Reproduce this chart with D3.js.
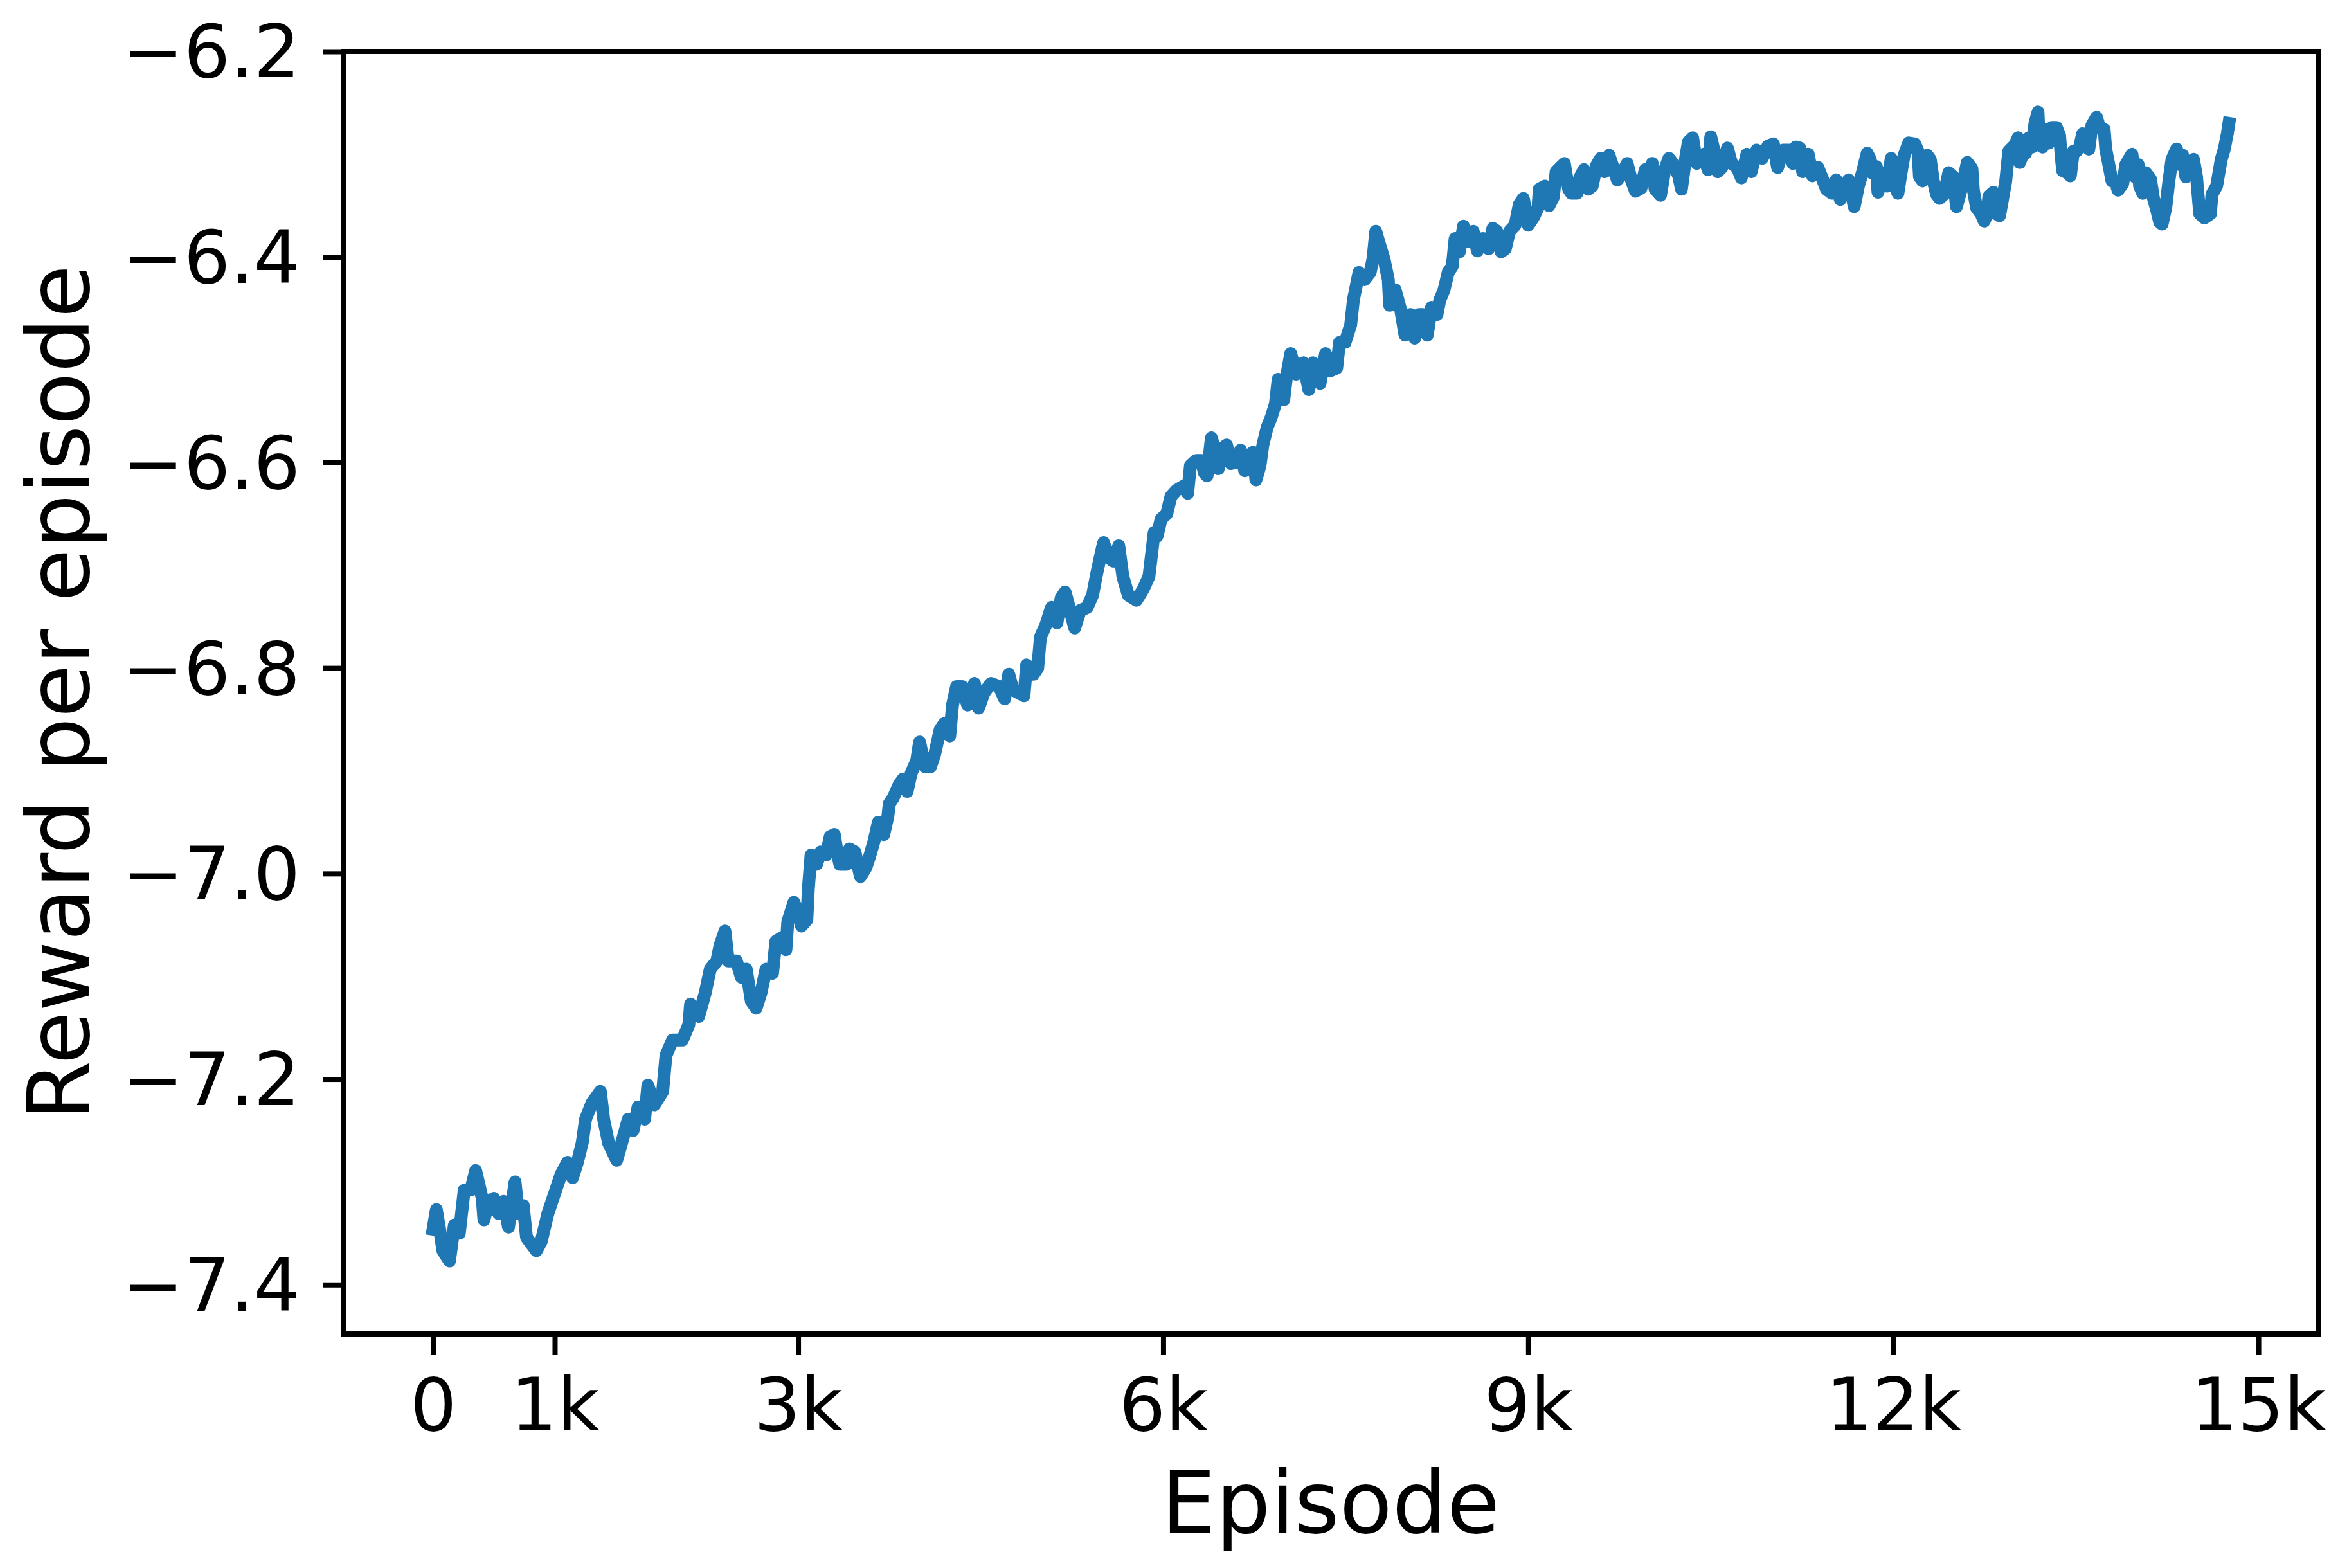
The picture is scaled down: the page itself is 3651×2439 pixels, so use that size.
<!DOCTYPE html>
<html>
<head>
<meta charset="utf-8">
<script src="https://cdn.jsdelivr.net/npm/d3@7"></script>
<style>
  html, body { margin: 0; padding: 0; background: #ffffff; }
  svg { display: block; }
</style>
</head>
<body>
<script>
const episodes = [
  0,27,54,81,135,175,216,256,310,350,404,418,458,499,539,580,620,674,701,741,768,849,889,943,997,
  1051,1105,1146,1186,1226,1253,1307,1375,1402,1442,1509,1550,1604,1644,1685,1739,1765,1819,1887,1914,1968,
  2049,2102,2116,2183,2237,2278,2332,2358,2399,2426,2493,2534,2574,2615,2655,2695,2736,2790,2817,2871,2900,2915,2965,
  3005,3027,3072,3084,3106,3151,3185,3230,3264,3298,3320,3343,3400,3422,3467,3512,3558,3591,3625,3659,3704,3738,3749,3783,3828,3862,3896,3930,3975,3998,
  4043,4088,4122,4167,4201,4246,4269,4302,4348,4393,4449,4483,4528,4585,4652,4697,4731,4765,4810,4856,4878,4935,4969,4991,
  5036,5082,5127,5161,5194,5228,5273,5318,5375,5420,5454,5476,5510,5556,5589,5635,5669,5713,5781,5837,5883,5926,5949,5983,
  6029,6064,6109,6167,6201,6224,6270,6315,6338,6361,6396,6430,6453,6487,6521,6556,6602,6636,6670,6705,6739,6762,6796,6819,6854,6888,6922,6945,6991,
  7014,7048,7094,7151,7197,7231,7289,7334,7369,7426,7449,7495,7541,7563,7609,7655,7701,7724,7747,7781,7815,7850,7861,7907,7953,7987,
  8033,8067,8102,8136,8170,8205,8250,8273,8308,8342,8376,8399,8434,8468,8502,8548,8582,8628,8674,8709,8743,8777,8812,8846,8892,8926,8960,
  9000,9045,9080,9091,9137,9171,9206,9229,9263,9297,9332,9355,9400,9423,9458,9492,9526,9561,9595,9629,9664,9698,9732,9778,9813,9847,9881,9927,9961,9996,
  10019,10042,10087,10122,10156,10190,10236,10259,10293,10316,10351,10385,10419,10442,10477,10500,10534,10557,10591,10637,10671,10717,10751,10797,10832,10877,10923,10969,
  11015,11049,11095,11141,11175,11198,11232,11255,11301,11335,11381,11415,11450,11496,11530,11564,11599,11633,11679,11713,11748,11785,11811,11823,11861,11874,11912,11950,11983,
  12013,12038,12064,12089,12127,12177,12203,12215,12241,12279,12304,12329,12355,12380,12418,12456,12494,12519,12570,12608,12646,12658,12684,12721,12747,12772,12785,12823,12848,12873,12899,12924,12949,12999,
  13025,13038,13076,13088,13114,13139,13164,13189,13202,13227,13253,13278,13303,13341,13367,13379,13392,13430,13455,13480,13506,13531,13556,13582,13607,13632,13670,13695,13733,13746,13771,13797,13822,13847,13885,13911,13936,13961,13986,
  14012,14024,14050,14075,14113,14138,14164,14189,14209,14239,14265,14290,14328,14353,14378,14404,14442,14467,14492,14518,14556,14606,14619,14657,14695,14720,14745,14758
];
const rewards = [
  -7.346,-7.327,-7.346,-7.367,-7.377,-7.342,-7.350,-7.308,-7.308,-7.289,-7.316,-7.337,-7.319,-7.316,-7.331,-7.319,-7.344,-7.300,-7.331,-7.323,-7.354,-7.367,-7.358,-7.331,-7.312,
  -7.293,-7.281,-7.296,-7.281,-7.262,-7.239,-7.223,-7.212,-7.239,-7.262,-7.279,-7.262,-7.239,-7.250,-7.227,-7.239,-7.206,-7.225,-7.212,-7.177,-7.162,
  -7.162,-7.147,-7.127,-7.139,-7.116,-7.093,-7.085,-7.070,-7.056,-7.085,-7.085,-7.101,-7.093,-7.124,-7.131,-7.116,-7.093,-7.097,-7.066,-7.062,-7.074,-7.047,-7.028,
  -7.039,-7.051,-7.045,-7.015,-6.982,-6.991,-6.979,-6.982,-6.964,-6.962,-6.979,-6.991,-6.991,-6.976,-6.979,-7.003,-6.994,-6.982,-6.968,-6.950,-6.962,-6.944,-6.932,-6.926,-6.914,-6.908,-6.920,-6.902,-6.890,-6.872,
  -6.896,-6.896,-6.884,-6.860,-6.854,-6.866,-6.836,-6.818,-6.818,-6.836,-6.815,-6.839,-6.824,-6.815,-6.818,-6.830,-6.806,-6.821,-6.824,-6.827,-6.797,-6.806,-6.800,-6.770,
  -6.758,-6.741,-6.756,-6.732,-6.726,-6.741,-6.761,-6.744,-6.741,-6.729,-6.708,-6.696,-6.678,-6.693,-6.696,-6.681,-6.711,-6.729,-6.734,-6.723,-6.711,-6.668,-6.672,-6.655,
  -6.650,-6.633,-6.627,-6.623,-6.630,-6.603,-6.598,-6.598,-6.610,-6.613,-6.576,-6.590,-6.606,-6.586,-6.583,-6.601,-6.600,-6.588,-6.608,-6.593,-6.590,-6.617,-6.603,-6.583,-6.566,-6.556,-6.543,-6.519,-6.539,
  -6.516,-6.494,-6.514,-6.503,-6.529,-6.503,-6.523,-6.494,-6.511,-6.508,-6.483,-6.483,-6.466,-6.442,-6.415,-6.422,-6.415,-6.402,-6.375,-6.389,-6.402,-6.422,-6.447,-6.432,-6.452,-6.476,
  -6.456,-6.479,-6.456,-6.456,-6.476,-6.449,-6.456,-6.442,-6.432,-6.415,-6.409,-6.382,-6.395,-6.370,-6.385,-6.375,-6.394,-6.382,-6.392,-6.372,-6.375,-6.395,-6.392,-6.375,-6.369,-6.349,-6.343,
  -6.369,-6.361,-6.352,-6.334,-6.331,-6.350,-6.342,-6.317,-6.313,-6.309,-6.334,-6.338,-6.338,-6.323,-6.315,-6.334,-6.331,-6.311,-6.304,-6.317,-6.301,-6.313,-6.325,-6.317,-6.309,-6.325,-6.336,-6.333,-6.315,-6.319,
  -6.309,-6.334,-6.340,-6.315,-6.304,-6.309,-6.321,-6.334,-6.304,-6.288,-6.284,-6.309,-6.304,-6.300,-6.315,-6.283,-6.300,-6.317,-6.313,-6.294,-6.309,-6.313,-6.323,-6.300,-6.317,-6.296,-6.304,-6.292,
  -6.290,-6.313,-6.296,-6.296,-6.309,-6.293,-6.294,-6.317,-6.300,-6.321,-6.313,-6.323,-6.334,-6.338,-6.325,-6.344,-6.334,-6.325,-6.351,-6.331,-6.317,-6.299,-6.305,-6.318,-6.312,-6.337,-6.318,-6.331,-6.304,
  -6.331,-6.338,-6.318,-6.301,-6.289,-6.290,-6.297,-6.322,-6.326,-6.301,-6.305,-6.326,-6.339,-6.343,-6.339,-6.318,-6.322,-6.351,-6.329,-6.308,-6.314,-6.335,-6.352,-6.358,-6.365,-6.358,-6.341,-6.337,-6.358,-6.360,-6.343,-6.326,-6.297,-6.291,
  -6.284,-6.308,-6.297,-6.299,-6.284,-6.293,-6.270,-6.259,-6.291,-6.293,-6.276,-6.289,-6.274,-6.274,-6.282,-6.301,-6.316,-6.318,-6.321,-6.297,-6.297,-6.293,-6.280,-6.282,-6.295,-6.272,-6.264,-6.274,-6.276,-6.295,-6.310,-6.326,-6.326,-6.335,-6.329,-6.310,-6.305,-6.300,-6.322,
  -6.310,-6.331,-6.338,-6.318,-6.324,-6.343,-6.354,-6.366,-6.368,-6.352,-6.326,-6.305,-6.295,-6.310,-6.301,-6.322,-6.310,-6.305,-6.322,-6.358,-6.362,-6.358,-6.339,-6.331,-6.305,-6.295,-6.280,-6.270
];
const xTickValues = [0, 1000, 3000, 6000, 9000, 12000, 15000];
const xTickLabels = ["0", "1k", "3k", "6k", "9k", "12k", "15k"];
const yTickValues = [-7.4, -7.2, -7.0, -6.8, -6.6, -6.4, -6.2];
const yTickLabels = ["\u22127.4", "\u22127.2", "\u22127.0", "\u22126.8", "\u22126.6", "\u22126.4", "\u22126.2"];
const xLabel = "Episode";
const yLabel = "Reward per episode";

const W = 3651, H = 2439;
const L = 534, R = 3606, T = 80, B = 2075;
const FONT = "'DejaVu Sans', sans-serif";

const svg = d3.select("body").append("svg")
  .attr("width", W).attr("height", H)
  .attr("viewBox", `0 0 ${W} ${H}`);
svg.append("rect").attr("width", W).attr("height", H).attr("fill", "#ffffff");

const x = d3.scaleLinear().domain([-738, 15491]).range([L, R]);
const y = d3.scaleLinear().domain([-7.448, -6.2]).range([B, T]);

const data = episodes.map((e, i) => ({ e, v: rewards[i] }));

const line = d3.line().x(d => x(d.e)).y(d => y(d.v));
svg.append("path")
  .datum(data)
  .attr("d", line)
  .attr("fill", "none")
  .attr("stroke", "#1f77b4")
  .attr("stroke-width", 20)
  .attr("stroke-linejoin", "round")
  .attr("stroke-linecap", "square");

// x axis
const xAxis = d3.axisBottom(x)
  .tickValues(xTickValues)
  .tickFormat((d, i) => xTickLabels[i])
  .tickSize(32)
  .tickSizeOuter(0)
  .tickPadding(37);
const gx = svg.append("g").attr("transform", `translate(0,${B})`).call(xAxis);
gx.select(".domain").remove();
gx.selectAll(".tick line").attr("stroke", "#000").attr("stroke-width", 8);
gx.selectAll(".tick text")
  .attr("fill", "#000")
  .style("font-family", FONT)
  .style("font-size", "114px");

// y axis
const yAxis = d3.axisLeft(y)
  .tickValues(yTickValues)
  .tickFormat((d, i) => yTickLabels[i])
  .tickSize(32)
  .tickSizeOuter(0)
  .tickPadding(35);
const gy = svg.append("g").attr("transform", `translate(${L},0)`).call(yAxis);
gy.select(".domain").remove();
gy.selectAll(".tick line").attr("stroke", "#000").attr("stroke-width", 8);
gy.selectAll(".tick text")
  .attr("fill", "#000")
  .attr("dy", "0.35em")
  .style("font-family", FONT)
  .style("font-size", "114px");

// spines (frame)
svg.append("rect")
  .attr("x", L).attr("y", T)
  .attr("width", R - L).attr("height", B - T)
  .attr("fill", "none")
  .attr("stroke", "#000")
  .attr("stroke-width", 8)
  .attr("stroke-linejoin", "miter");

// axis labels
svg.append("text")
  .attr("x", (L + R) / 2)
  .attr("y", 2384)
  .attr("text-anchor", "middle")
  .style("font-family", FONT)
  .style("font-size", "134px")
  .attr("fill", "#000")
  .text(xLabel);

svg.append("text")
  .attr("transform", `translate(138,${(T + B) / 2}) rotate(-90)`)
  .attr("text-anchor", "middle")
  .style("font-family", FONT)
  .style("font-size", "134px")
  .attr("fill", "#000")
  .text(yLabel);
</script>
</body>
</html>
